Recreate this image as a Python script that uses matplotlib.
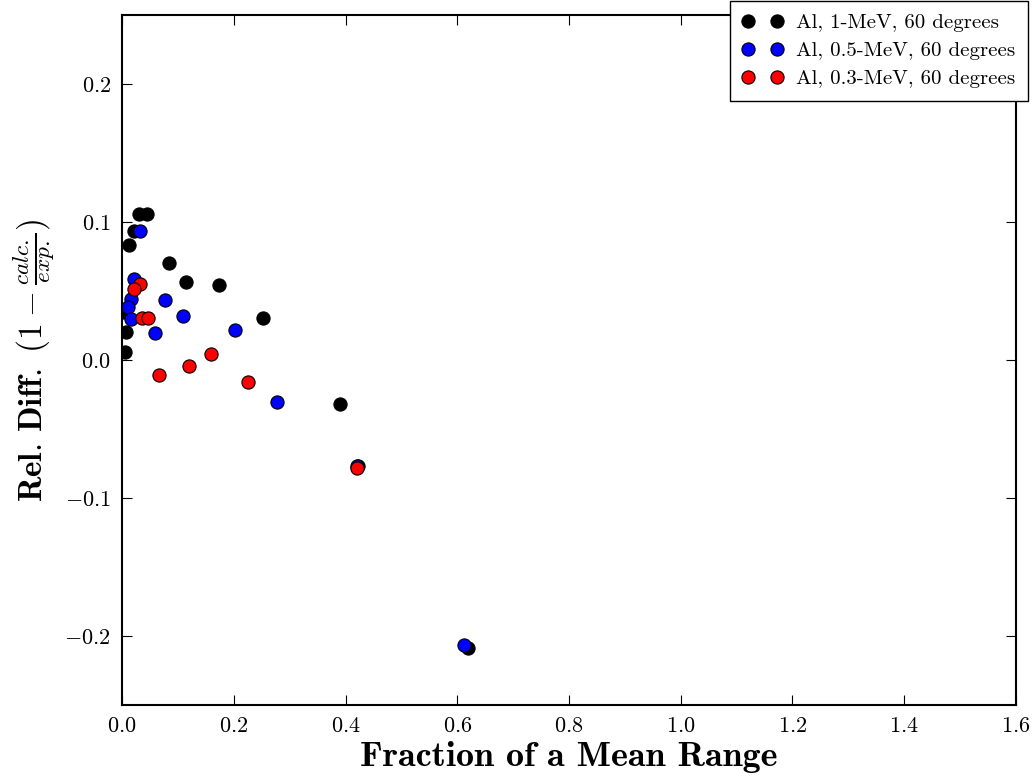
import matplotlib
matplotlib.use("Agg")
import matplotlib.pyplot as plt

plt.rcParams['mathtext.fontset'] = 'cm'
plt.rcParams['font.family'] = 'cmr10'
plt.rcParams['axes.formatter.use_mathtext'] = True
plt.rcParams['axes.unicode_minus'] = True

labels = ["Al, 1-MeV, 60 degrees", "Al, 0.5-MeV, 60 degrees", "Al, 0.3-MeV, 60 degrees"]
colors = ["black", "blue", "red"]

x_1mev = [0.031, 0.044, 0.022, 0.0125, 0.0835, 0.1145, 0.1736, 0.252, 0.007, 0.0054, 0.002, 0.390, 0.422, 0.619]
y_1mev = [0.1056, 0.1056, 0.0937, 0.083, 0.0705, 0.0568, 0.0543, 0.0302, 0.020, 0.006, 0.035, -0.032, -0.077, -0.209]

x_05mev = [0.032, 0.022, 0.017, 0.010, 0.0155, 0.077, 0.1086, 0.0585, 0.202, 0.278, 0.421, 0.612]
y_05mev = [0.0937, 0.059, 0.044, 0.0385, 0.030, 0.0432, 0.0317, 0.0198, 0.022, -0.0304, -0.077, -0.2065]

x_03mev = [0.033, 0.0215, 0.036, 0.047, 0.0657, 0.120, 0.1587, 0.2255, 0.421]
y_03mev = [0.0548, 0.0512, 0.0304, 0.0304, -0.0111, -0.0041, 0.0046, -0.0162, -0.078]

xs = [x_1mev, x_05mev, x_03mev]
ys = [y_1mev, y_05mev, y_03mev]

fig = plt.figure(figsize=(10.34, 7.81), dpi=100)
ax = fig.add_axes([122/1034, 1-705/781, (1016-122)/1034, (705-15)/781])

for x, y, c, lab in zip(xs, ys, colors, labels):
    ax.plot(x, y, 'o', color=c, markeredgecolor='black', markeredgewidth=0.8,
            markersize=9.5, label=lab)

ax.set_xlim(0, 1.6)
ax.set_ylim(-0.25, 0.25)
ax.set_xticks([0.0, 0.2, 0.4, 0.6, 0.8, 1.0, 1.2, 1.4, 1.6])
ax.set_yticks([-0.2, -0.1, 0.0, 0.1, 0.2])
ax.tick_params(direction='in', top=True, right=True, length=7, width=0.8,
               labelsize=16, pad=8)
for s in ax.spines.values():
    s.set_linewidth(1.5)

ax.set_xlabel('Fraction of a Mean Range', fontfamily='cmb10', fontsize=26, labelpad=4)
ax.set_ylabel(r'$\mathbf{Rel.\,Diff.}\ (1-\frac{calc.}{exp.})$', fontsize=24, labelpad=6)

leg = ax.legend(loc='upper right', bbox_to_anchor=(1028/1034, 1-1/781),
                bbox_transform=fig.transFigure, borderaxespad=0, numpoints=2,
                fancybox=False, framealpha=1, edgecolor='black', fontsize=15,
                handletextpad=0.6, borderpad=0.6, labelspacing=0.45, handlelength=2.0)
leg.get_frame().set_linewidth(1.0)

fig.savefig('out.png', dpi=100)
